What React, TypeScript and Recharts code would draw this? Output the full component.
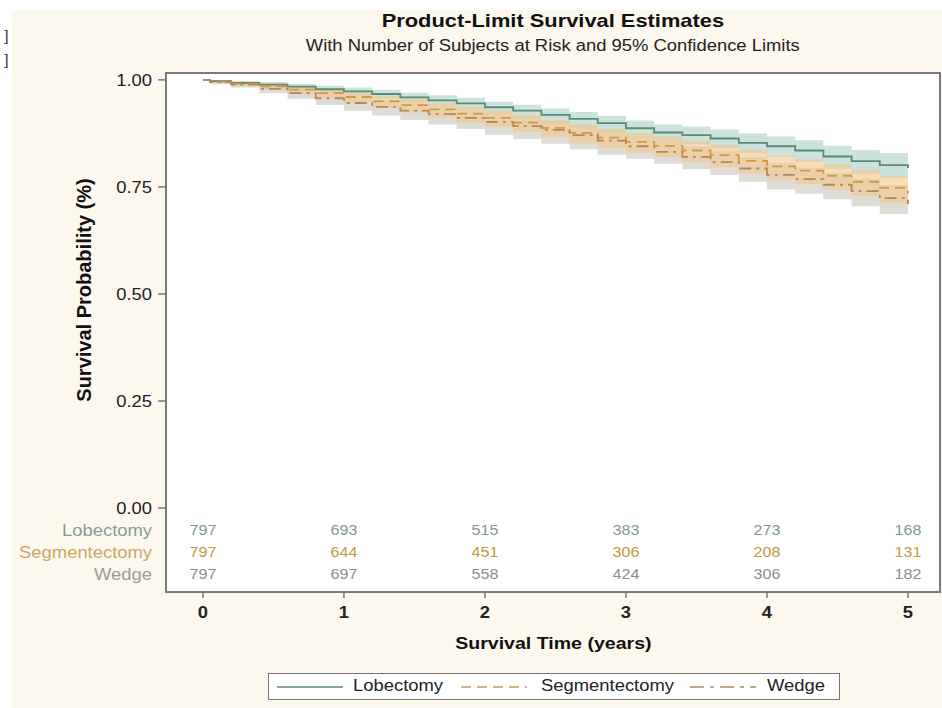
import React from "react";
import { ComposedChart, Line, Area, Scatter, XAxis, YAxis, ReferenceArea } from "recharts";

// Kaplan-Meier estimates by surgery type with 95% limits
const times = [0, 0.05, 0.2, 0.4, 0.6, 0.8, 1, 1.2, 1.4, 1.6, 1.8, 2, 2.2, 2.4, 2.6, 2.8, 3, 3.2, 3.4, 3.6, 3.8, 4, 4.2, 4.4, 4.6, 4.8, 5];

const lobEst = [1.0, 0.997, 0.993, 0.989, 0.984, 0.978, 0.973, 0.967, 0.959, 0.952, 0.945, 0.936, 0.928, 0.918, 0.909, 0.899, 0.887, 0.877, 0.871, 0.863, 0.853, 0.845, 0.835, 0.821, 0.81, 0.801, 0.794];
const lobLo = [1.0, 0.995, 0.988, 0.982, 0.975, 0.968, 0.963, 0.955, 0.946, 0.937, 0.929, 0.921, 0.911, 0.9, 0.89, 0.879, 0.867, 0.856, 0.849, 0.84, 0.829, 0.82, 0.808, 0.793, 0.781, 0.771, 0.764];
const lobHi = [1.0, 0.999, 0.997, 0.995, 0.991, 0.986, 0.982, 0.977, 0.97, 0.964, 0.958, 0.949, 0.942, 0.933, 0.925, 0.916, 0.905, 0.896, 0.891, 0.884, 0.875, 0.868, 0.859, 0.846, 0.836, 0.829, 0.826];

const segEst = [1.0, 0.996, 0.991, 0.985, 0.977, 0.969, 0.96, 0.95, 0.941, 0.931, 0.921, 0.911, 0.9, 0.888, 0.876, 0.865, 0.855, 0.846, 0.835, 0.824, 0.811, 0.798, 0.788, 0.776, 0.762, 0.748, 0.734];
const segLo = [1.0, 0.992, 0.985, 0.977, 0.967, 0.958, 0.946, 0.935, 0.924, 0.912, 0.9, 0.891, 0.879, 0.866, 0.852, 0.84, 0.83, 0.82, 0.808, 0.796, 0.782, 0.768, 0.757, 0.744, 0.729, 0.713, 0.697];
const segHi = [1.0, 0.999, 0.996, 0.992, 0.986, 0.979, 0.972, 0.963, 0.955, 0.946, 0.937, 0.928, 0.918, 0.907, 0.896, 0.886, 0.876, 0.868, 0.858, 0.848, 0.836, 0.823, 0.814, 0.803, 0.79, 0.775, 0.772];

const wedEst = [1.0, 0.995, 0.989, 0.979, 0.969, 0.957, 0.946, 0.937, 0.928, 0.92, 0.911, 0.902, 0.892, 0.883, 0.871, 0.858, 0.845, 0.832, 0.82, 0.808, 0.793, 0.778, 0.768, 0.755, 0.74, 0.724, 0.71];
const wedLo = [1.0, 0.99, 0.982, 0.969, 0.956, 0.941, 0.928, 0.917, 0.906, 0.896, 0.885, 0.872, 0.862, 0.851, 0.838, 0.825, 0.816, 0.804, 0.791, 0.778, 0.762, 0.744, 0.734, 0.721, 0.705, 0.687, 0.667];
const wedHi = [1.0, 0.998, 0.995, 0.988, 0.98, 0.971, 0.961, 0.953, 0.945, 0.937, 0.929, 0.921, 0.912, 0.903, 0.892, 0.88, 0.868, 0.856, 0.845, 0.833, 0.819, 0.805, 0.795, 0.783, 0.769, 0.754, 0.742];

// number of subjects at risk
const riskTimes = [0, 1, 2, 3, 4, 5];
const lobRisk = [797, 693, 515, 383, 273, 168];
const segRisk = [797, 644, 451, 306, 208, 131];
const wedRisk = [797, 697, 558, 424, 306, 182];

const groups = ["Lobectomy", "Segmentectomy", "Wedge"];
const xTicks = [0, 1, 2, 3, 4, 5];
const yTicks = [0, 0.25, 0.5, 0.75, 1];

const FONT = "'Liberation Sans', Arial, sans-serif";
const SX = 1.15; // text is set slightly wide
const X_DOMAIN = [-0.262, 5.227];
const Y_DOMAIN = [-0.196, 1.016];
// rows of the at-risk table sit below zero inside the frame
const ROW_Y = [-0.051, -0.103, -0.154];

const lineColors = ["#5b8a78", "#cf9a45", "#b08a5c"];
const bandColors = ["#b9d9cf", "#f2c68a", "#c4beb2"];
const rowLabelColors = ["#8a9c96", "#c6a864", "#9a9a9a"];
const riskColors = ["#7f9a92", "#c49a3c", "#8e8e8e"];

const data = times.map((t, i) => ({
  t,
  lob: lobEst[i],
  seg: segEst[i],
  wed: wedEst[i],
  lobBand: [lobLo[i], lobHi[i]],
  segBand: [segLo[i], segHi[i]],
  wedBand: [wedLo[i], wedHi[i]],
}));

const riskRows = [lobRisk, segRisk, wedRisk].map((counts, r) =>
  riskTimes.map((t, i) => ({ t, y: ROW_Y[r], n: counts[i] }))
);

const wide = (x: number, y: number) => `translate(${x} ${y}) scale(${SX} 1)`;

function YTick(props: any) {
  const { x, y, payload } = props;
  const row = ROW_Y.indexOf(payload.value);
  if (row >= 0) {
    return (
      <text transform={wide(x, y)} dy="0.36em" textAnchor="end" fill={rowLabelColors[row]} fontSize={16} fontFamily={FONT}>
        {groups[row]}
      </text>
    );
  }
  return (
    <g>
      <line x1={x + 6} x2={x + 14} y1={y} y2={y} stroke="#777" strokeWidth={1.5} />
      <text transform={wide(x, y)} dy="0.36em" textAnchor="end" fill="#222" fontSize={16} fontFamily={FONT}>
        {Number(payload.value).toFixed(2)}
      </text>
    </g>
  );
}

function XTick(props: any) {
  const { x, y, payload } = props;
  return (
    <text transform={wide(x, y)} dy="0.71em" textAnchor="middle" fill="#222" fontSize={16} fontWeight="bold" fontFamily={FONT}>
      {payload.value}
    </text>
  );
}

const riskShape = (color: string) => (p: any) => (
  <text transform={wide(p.cx, p.cy)} dy="0.36em" textAnchor="middle" fill={color} fontSize={14} fontFamily={FONT}>
    {p.payload.n}
  </text>
);

function LegendSample({ color, dash, left }: { color: string; dash?: string; left: number }) {
  return (
    <svg width={66} height={10} style={{ position: "absolute", left, top: 8 }}>
      <line x1={0} x2={66} y1={5} y2={5} stroke={color} strokeWidth={1.5} strokeDasharray={dash} />
    </svg>
  );
}

function WideText({ children, style }: { children: React.ReactNode; style: React.CSSProperties }) {
  return (
    <div style={{ position: "absolute", whiteSpace: "nowrap", ...style }}>
      <span style={{ display: "inline-block", transform: `scaleX(${SX})`, transformOrigin: style.textAlign === "center" ? "50% 50%" : "0 50%" }}>
        {children}
      </span>
    </div>
  );
}

export default function App() {
  return (
    <div style={{ position: "absolute", left: 0, top: 0, width: 942, height: 708, background: "#fff", fontFamily: FONT }}>
      <div style={{ position: "absolute", left: 12, top: 10, width: 930, height: 698, background: "#fdf8ee" }} />
      <div style={{ position: "absolute", left: 3, top: 27, fontFamily: "'Liberation Serif', serif", fontSize: 17, color: "#333" }}>]</div>
      <div style={{ position: "absolute", left: 3, top: 51, fontFamily: "'Liberation Serif', serif", fontSize: 17, color: "#333" }}>]</div>

      <WideText style={{ left: 166, width: 774, top: 10, textAlign: "center", fontSize: 19, fontWeight: "bold", color: "#111" }}>
        Product-Limit Survival Estimates
      </WideText>
      <WideText style={{ left: 166, width: 774, top: 37, textAlign: "center", fontSize: 16, color: "#222" }}>
        With Number of Subjects at Risk and 95% Confidence Limits
      </WideText>

      <div style={{ position: "absolute", left: 0, top: 0 }}>
        <ComposedChart width={942} height={708} data={data} margin={{ top: 73, right: 2, bottom: 86, left: 16 }}>
          <ReferenceArea x1={X_DOMAIN[0]} x2={X_DOMAIN[1]} y1={Y_DOMAIN[0]} y2={Y_DOMAIN[1]} fill="#fff" fillOpacity={1} stroke="#7a7a7a" strokeWidth={2} />
          <XAxis
            type="number"
            dataKey="t"
            domain={X_DOMAIN}
            allowDataOverflow
            ticks={xTicks}
            axisLine={false}
            tickLine={{ stroke: "#777", strokeWidth: 1.5 }}
            tickSize={6}
            tickMargin={9}
            tick={<XTick />}
            height={30}
          />
          <YAxis
            type="number"
            domain={Y_DOMAIN}
            allowDataOverflow
            ticks={[...ROW_Y, ...yTicks]}
            interval={0}
            axisLine={false}
            tickLine={false}
            tickSize={8}
            tickMargin={6}
            tick={<YTick />}
            width={150}
          />
          <Area type="stepAfter" dataKey="lobBand" fill={bandColors[0]} fillOpacity={0.75} stroke="none" isAnimationActive={false} />
          <Area type="stepAfter" dataKey="wedBand" fill={bandColors[2]} fillOpacity={0.55} stroke="none" isAnimationActive={false} />
          <Area type="stepAfter" dataKey="segBand" fill={bandColors[1]} fillOpacity={0.6} stroke="none" isAnimationActive={false} />
          <Line type="stepAfter" dataKey="lob" stroke={lineColors[0]} strokeWidth={1.8} dot={false} isAnimationActive={false} />
          <Line type="stepAfter" dataKey="seg" stroke={lineColors[1]} strokeWidth={1.8} strokeDasharray="10 6" dot={false} isAnimationActive={false} />
          <Line type="stepAfter" dataKey="wed" stroke={lineColors[2]} strokeWidth={1.8} strokeDasharray="12 5 3 5" dot={false} isAnimationActive={false} />
          {riskRows.map((rows, r) => (
            <Scatter key={groups[r]} data={rows} dataKey="y" shape={riskShape(riskColors[r])} isAnimationActive={false} />
          ))}
        </ComposedChart>
      </div>

      <div
        style={{
          position: "absolute",
          left: 84,
          top: 290,
          transform: "translate(-50%, -50%) rotate(-90deg)",
          whiteSpace: "nowrap",
          fontSize: 20,
          fontWeight: "bold",
          color: "#111",
        }}
      >
        Survival Probability (%)
      </div>
      <WideText style={{ left: 166, width: 774, top: 634, textAlign: "center", fontSize: 17, fontWeight: "bold", color: "#111" }}>
        Survival Time (years)
      </WideText>

      <div
        style={{
          position: "absolute",
          left: 268,
          top: 673,
          width: 570,
          height: 25,
          border: "1px solid #777",
          background: "#fff",
          fontSize: 16,
          color: "#222",
        }}
      >
        <LegendSample color={lineColors[0]} left={8} />
        <WideText style={{ left: 84, top: 3 }}>{groups[0]}</WideText>
        <LegendSample color={lineColors[1]} dash="10 6" left={192} />
        <WideText style={{ left: 272, top: 3 }}>{groups[1]}</WideText>
        <LegendSample color={lineColors[2]} dash="14 6 4 6" left={421} />
        <WideText style={{ left: 498, top: 3 }}>{groups[2]}</WideText>
      </div>
    </div>
  );
}
